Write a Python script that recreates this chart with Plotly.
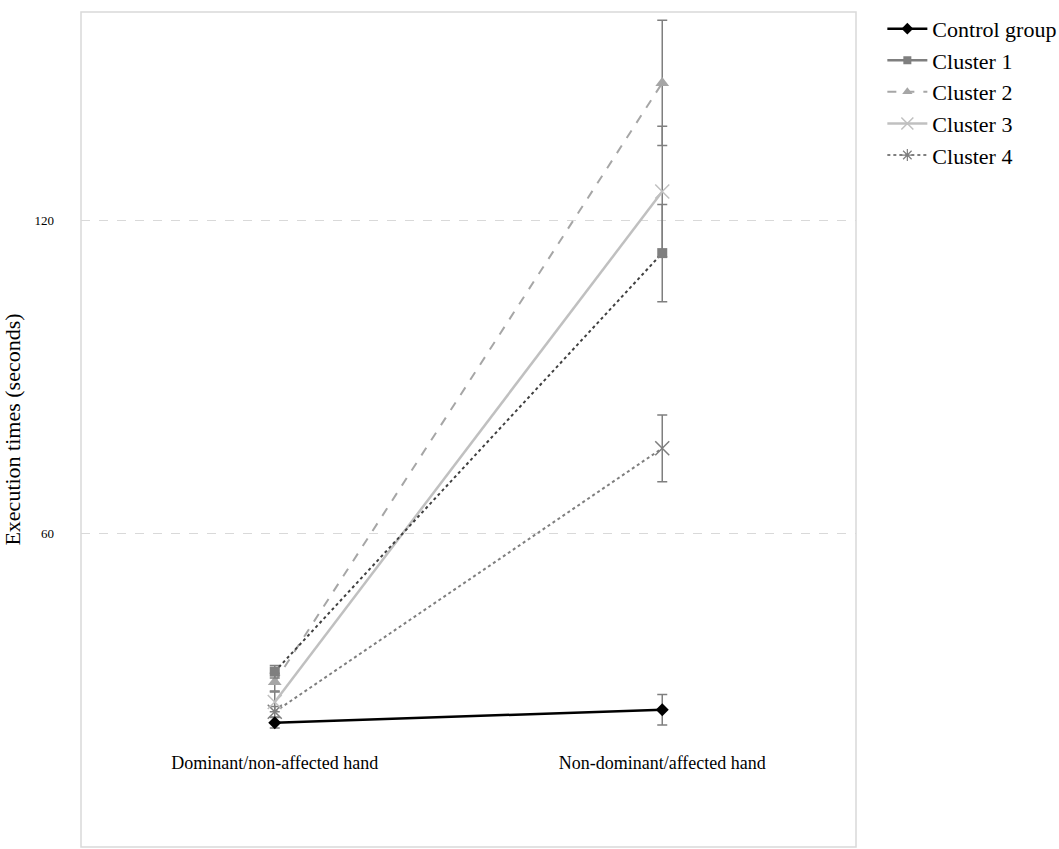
import plotly.graph_objects as go

categories = ["Dominant/non-affected hand", "Non-dominant/affected hand"]

control = [23.8, 26.3]
control_err = [1.0, 2.9]
cluster1 = [33.6, 113.8]
cluster1_err = [1.2, 9.3]
cluster2 = [31.6, 146.4]
cluster2_err = [1.7, 12.0]
cluster3 = [27.8, 125.6]
cluster3_err = [1.9, 12.5]
cluster4 = [25.9, 76.4]
cluster4_err = [1.0, 6.4]

FONT = "Liberation Serif, Times New Roman, serif"
ERRC = "#7f7f7f"

fig = go.Figure()

def err(vals):
    return dict(type="data", array=vals, visible=True, color=ERRC, thickness=1.5, width=5)

# data traces drawn as in the picture
fig.add_trace(go.Scatter(x=categories, y=cluster4, mode="lines+markers", showlegend=False,
                         line=dict(color="#7f7f7f", width=2, dash="dot"),
                         marker=dict(symbol="x-thin-open", size=14, line=dict(color="#c8c8c8", width=1.5)),
                         error_y=err(cluster4_err)))
fig.add_trace(go.Scatter(x=categories, y=cluster3, mode="lines+markers", showlegend=False,
                         line=dict(color="#c0c0c0", width=2.5),
                         marker=dict(symbol="x-thin-open", size=14, line=dict(color="#c8c8c8", width=1.5)),
                         error_y=err(cluster3_err)))
fig.add_trace(go.Scatter(x=categories, y=cluster2, mode="lines+markers", showlegend=False,
                         line=dict(color="#a6a6a6", width=2, dash="dash"),
                         marker=dict(symbol="triangle-up", size=12, color="#a6a6a6"),
                         error_y=err(cluster2_err)))
fig.add_trace(go.Scatter(x=categories, y=cluster1, mode="lines+markers", showlegend=False,
                         line=dict(color="#404040", width=2, dash="dot"),
                         marker=dict(symbol="square", size=10, color="#7f7f7f"),
                         error_y=err(cluster1_err)))
fig.add_trace(go.Scatter(x=categories, y=control, mode="lines+markers", showlegend=False,
                         line=dict(color="#000000", width=2.5),
                         marker=dict(symbol="diamond", size=10, color="#000000"),
                         error_y=err(control_err)))

# legend entries
legend_specs = [
    ("Control group", dict(color="#000000", width=2.5), dict(symbol="diamond", size=9, color="#000000")),
    ("Cluster 1", dict(color="#7f7f7f", width=2.5), dict(symbol="square", size=8, color="#7f7f7f")),
    ("Cluster 2", dict(color="#a6a6a6", width=2, dash="dash"), dict(symbol="triangle-up", size=9, color="#a6a6a6")),
    ("Cluster 3", dict(color="#c0c0c0", width=2.5), dict(symbol="x-thin-open", size=12, line=dict(color="#c0c0c0", width=1.5))),
    ("Cluster 4", dict(color="#7f7f7f", width=2, dash="dot"), dict(symbol="asterisk-open", size=10, line=dict(color="#7f7f7f", width=1.2))),
]
for name, ln, mk in legend_specs:
    fig.add_trace(go.Scatter(x=[None], y=[None], mode="lines+markers", name=name, line=ln, marker=mk))

fig.update_layout(
    width=1059, height=849,
    margin=dict(l=81, r=203, t=12, b=2, autoexpand=False),
    paper_bgcolor="white", plot_bgcolor="white",
    font=dict(family=FONT, color="#000000"),
    legend=dict(x=1.034, y=1.005, xanchor="left", yanchor="top", font=dict(size=22, family=FONT),
                bgcolor="rgba(0,0,0,0)", itemwidth=40, tracegroupgap=0),
    xaxis=dict(type="category", range=[-0.5, 1.5], showgrid=False, showline=False, zeroline=False,
               anchor="free", position=0.116, ticks="", tickfont=dict(size=18, family=FONT)),
    yaxis=dict(range=[0, 160], tickvals=[0, 60, 120], showgrid=True, gridcolor="#d9d9d9",
               griddash="dash", gridwidth=1, zeroline=False, showline=False,
               ticks="", ticklabelstandoff=26, tickfont=dict(size=13, family=FONT),
               title=dict(text="Execution times (seconds)", font=dict(size=22, family=FONT), standoff=8)),
    shapes=[dict(type="rect", xref="paper", yref="paper", x0=0, x1=1, y0=0, y1=1,
                 line=dict(color="#d9d9d9", width=1.5), layer="below")],
)

fig.write_html("out.html")
